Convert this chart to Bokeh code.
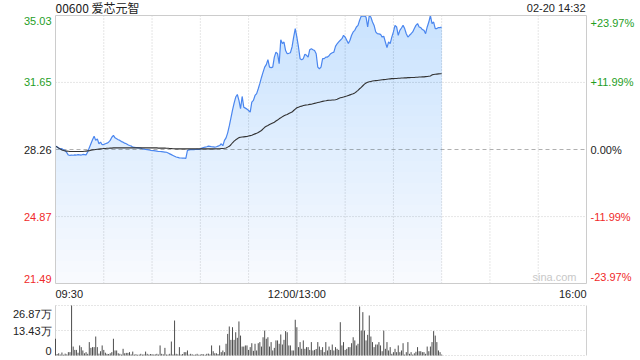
import numpy as np
from bokeh.plotting import figure
from bokeh.models import Range1d
from bokeh.core.properties import value
from bokeh.embed import file_html
from bokeh.resources import INLINE

# ---------------- data ----------------
stock_title = "00600 爱芯元智"
stamp = "02-20 14:32"
prev_close = 28.26

# one value per trading minute from 09:30 (index 0); 12:00 and 13:00 share index 150
price = [
    28.43, 28.40, 28.33, 28.29, 28.30, 28.24, 28.21, 28.10, 27.98, 27.96,
    27.98, 27.97, 27.99, 27.98, 28.00, 27.99, 27.98, 28.01, 28.00, 27.99,
    28.13, 28.35, 28.55, 28.75, 28.93, 28.72, 28.80, 28.55, 28.63, 28.50,
    28.52, 28.55, 28.58, 28.63, 28.72, 28.88, 28.97, 28.85, 28.80, 28.75,
    28.72, 28.66, 28.63, 28.58, 28.55, 28.50, 28.46, 28.44, 28.38, 28.37,
    28.36, 28.35, 28.34, 28.33, 28.30, 28.28, 28.26, 28.25, 28.24, 28.22,
    28.21, 28.20, 28.19, 28.18, 28.16, 28.16, 28.15, 28.14, 28.13, 28.12,
    28.08, 28.04, 28.00, 27.96, 27.92, 27.88, 27.86, 27.84, 27.83, 27.82,
    27.82, 27.81, 28.21, 28.24, 28.25, 28.26, 28.25, 28.26, 28.27, 28.26,
    28.28, 28.33, 28.36, 28.38, 28.40, 28.43, 28.42, 28.40, 28.39, 28.38,
    28.40, 28.43, 28.46, 28.55, 28.45, 28.72, 28.85, 29.10, 29.45, 29.85,
    30.25, 30.60, 30.91, 31.04, 30.74, 30.32, 30.94, 30.40, 30.35, 30.30,
    30.23, 30.15, 30.65, 30.74, 30.99, 31.08, 31.33, 31.60, 31.90, 32.17,
    32.42, 32.55, 32.80, 32.42, 32.40, 32.42, 32.93, 33.18, 33.10, 32.60,
    33.80, 33.61, 33.69, 33.26, 33.10, 33.12, 33.15, 33.44, 33.94, 34.37,
    33.94, 33.44, 32.85, 32.80, 32.85, 33.07, 33.02, 32.93, 33.30, 33.35,
    33.30, 33.26, 33.10, 32.42, 32.34, 32.42, 32.85, 32.85, 32.93, 32.93,
    33.00, 33.10, 33.15, 33.18, 33.47, 33.60, 33.70, 33.78, 33.86, 34.03,
    33.94, 33.78, 33.61, 33.78, 34.03, 34.20, 34.28, 34.45, 34.53, 34.79,
    35.00, 35.00, 35.00, 34.95, 34.45, 35.03, 34.95, 34.70, 34.53, 34.20,
    34.11, 34.10, 34.08, 33.94, 33.98, 33.69, 33.41, 33.69, 33.61, 33.94,
    34.20, 34.53, 34.45, 34.03, 34.28, 34.40, 34.53, 34.37, 34.11, 33.94,
    34.03, 34.11, 34.20, 34.37, 34.53, 34.62, 34.45, 34.42, 34.32, 34.28,
    34.11, 34.45, 34.70, 35.03, 34.62, 34.70, 34.37, 34.37, 34.42, 34.42,
    34.45,
]

avg_price = [
    28.43, 28.38, 28.33, 28.28, 28.24, 28.21, 28.19, 28.18, 28.17, 28.16,
    28.16, 28.16, 28.16, 28.16, 28.16, 28.16, 28.16, 28.16, 28.17, 28.18,
    28.19, 28.20, 28.22, 28.24, 28.25, 28.26, 28.27, 28.28, 28.29, 28.30,
    28.31, 28.31, 28.32, 28.32, 28.33, 28.33, 28.34, 28.34, 28.34, 28.34,
    28.34, 28.34, 28.34, 28.34, 28.34, 28.34, 28.34, 28.34, 28.34, 28.34,
    28.34, 28.34, 28.34, 28.34, 28.34, 28.34, 28.34, 28.34, 28.34, 28.34,
    28.34, 28.34, 28.34, 28.34, 28.33, 28.33, 28.33, 28.33, 28.33, 28.32,
    28.32, 28.31, 28.31, 28.30, 28.30, 28.29, 28.29, 28.29, 28.29, 28.29,
    28.29, 28.29, 28.29, 28.29, 28.29, 28.29, 28.29, 28.29, 28.29, 28.29,
    28.29, 28.29, 28.29, 28.29, 28.29, 28.29, 28.29, 28.29, 28.29, 28.29,
    28.30, 28.30, 28.30, 28.31, 28.31, 28.32, 28.34, 28.38, 28.42, 28.50,
    28.60, 28.68, 28.75, 28.80, 28.86, 28.88, 28.89, 28.90, 28.91, 28.92,
    28.94, 28.96, 28.98, 29.02, 29.05, 29.08, 29.12, 29.17, 29.22, 29.30,
    29.38, 29.43, 29.47, 29.52, 29.56, 29.60, 29.64, 29.70, 29.75, 29.81,
    29.86, 29.92, 29.96, 30.00, 30.03, 30.08, 30.12, 30.15, 30.23, 30.30,
    30.37, 30.40, 30.43, 30.45, 30.48, 30.50, 30.51, 30.52, 30.54, 30.55,
    30.57, 30.59, 30.61, 30.63, 30.65, 30.67, 30.69, 30.71, 30.72, 30.74,
    30.75, 30.75, 30.76, 30.76, 30.77, 30.80, 30.84, 30.87, 30.89, 30.91,
    30.94, 30.96, 30.99, 31.02, 31.05, 31.08, 31.12, 31.18, 31.25, 31.33,
    31.40, 31.48, 31.56, 31.62, 31.66, 31.68, 31.70, 31.72, 31.73, 31.74,
    31.75, 31.76, 31.77, 31.78, 31.79, 31.80, 31.81, 31.82, 31.83, 31.84,
    31.84, 31.85, 31.85, 31.86, 31.86, 31.87, 31.87, 31.88, 31.88, 31.89,
    31.89, 31.90, 31.90, 31.90, 31.91, 31.91, 31.92, 31.92, 31.93, 31.93,
    31.94, 31.95, 31.96, 31.97, 32.03, 32.05, 32.06, 32.07, 32.08, 32.09,
    32.09,
]

# volume in 万 shares
volume_wan = [
    9.0, 0.8, 1.2, 0.5, 1.6, 0.4, 1.0, 0.6, 1.8, 1.8,
    26.87, 4.8, 3.0, 3.0, 1.5, 5.4, 4.5, 2.7, 1.2, 1.8,
    0.9, 7.2, 4.1, 4.5, 4.5, 10.2, 4.5, 1.0, 2.3, 5.4,
    3.0, 1.5, 0.9, 0.8, 1.2, 1.8, 9.0, 2.7, 2.7, 1.2,
    0.9, 0.5, 3.6, 1.2, 1.4, 1.4, 1.8, 0.6, 2.1, 0.5,
    0.7, 0.4, 0.5, 0.9, 0.5, 0.6, 2.1, 0.9, 0.5, 0.8,
    0.7, 0.5, 0.6, 0.9, 0.5, 5.4, 0.9, 0.6, 4.1, 0.5,
    0.5, 0.9, 7.5, 0.6, 18.8, 0.9, 0.6, 4.5, 0.5, 0.8,
    1.8, 1.8, 2.7, 0.5, 0.9, 0.6, 0.4, 0.5, 0.9, 0.4,
    0.5, 0.8, 0.6, 0.4, 0.9, 1.0, 0.6, 5.4, 2.3, 1.2,
    1.2, 0.8, 5.4, 1.8, 2.7, 1.8, 6.3, 11.6, 15.6, 8.4,
    15.2, 8.4, 12.5, 9.5, 18.3, 10.7, 4.8, 4.8, 5.4, 5.4,
    3.0, 4.5, 6.6, 2.5, 6.3, 2.7, 6.6, 7.2, 4.8, 9.8,
    13.4, 9.0, 9.8, 4.8, 7.2, 2.7, 4.1, 8.1, 8.1, 6.3,
    11.3, 5.9, 8.4, 13.1, 12.5, 5.4, 5.4, 2.7, 2.7, 19.2,
    15.2, 4.5, 7.2, 3.6, 8.1, 3.6, 4.5, 4.5, 3.0, 7.2,
    2.7, 3.0, 3.5, 7.2, 4.8, 3.0, 4.5, 1.8, 7.2, 2.7,
    4.8, 3.0, 5.9, 2.7, 4.5, 3.6, 3.0, 17.9, 5.4, 7.2,
    3.0, 3.6, 4.5, 4.5, 6.6, 9.8, 8.1, 5.4, 6.3, 26.3,
    13.4, 23.3, 13.4, 8.1, 11.1, 21.5, 10.2, 7.2, 4.5, 5.9,
    5.9, 7.2, 5.4, 2.3, 13.4, 3.6, 7.2, 2.7, 4.5, 0.9,
    1.8, 3.6, 1.8, 5.4, 1.8, 2.7, 6.6, 0.5, 1.8, 7.2,
    0.9, 1.8, 0.5, 1.2, 2.0, 4.5, 2.3, 2.3, 1.8, 1.8,
    0.9, 4.8, 2.3, 4.8, 7.2, 13.1, 10.7, 7.2, 2.7, 1.8,
    0.5,
]

price_ticks = [21.49, 24.87, 28.26, 31.65, 35.03]
price_labels = ["21.49", "24.87", "28.26", "31.65", "35.03"]
pct_labels = ["-23.97%", "-11.99%", "0.00%", "+11.99%", "+23.97%"]
vol_ticks = [0, 13.43, 26.87]
vol_labels = ["0", "13.43万", "26.87万"]
time_labels = ["09:30", "12:00/13:00", "16:00"]
time_pos = [0, 150, 330]          # minutes from 09:30 on the session axis
session_minutes = 330
grid_step = 30

# ---------------- layout (pixels) & style ----------------
W, H = 640, 360
PL, PR = 55, 586          # panel left / right
T1, B1 = 15, 283          # price panel top / bottom
T2, B2 = 305, 355         # volume panel top / bottom

BLUE = "#4a86ef"
GREEN = "#1f9e1f"
RED = "#f02a2a"
DARK = "#222222"
GRIDC = "#cccccc"
FONT = "Liberation Sans"
CJK = "Noto Sans CJK SC"

n = min(len(price), len(avg_price), len(volume_wan))
x = np.arange(n)
pr = np.array(price[:n])
av = np.array(avg_price[:n])
vol = np.array(volume_wan[:n])

ymin, ymax = price_ticks[0], price_ticks[-1]
vmax = vol_ticks[-1]

# ranges so that the panels land on the wanted pixel boxes of one full-canvas frame
xpp = session_minutes / (PR - PL)
x_start, x_end = -PL * xpp, session_minutes + (W - PR) * xpp
ypp = (ymax - ymin) / (B1 - T1)
y_start, y_end = ymin - (H - B1) * ypp, ymax + T1 * ypp
vpp = vmax / (B2 - T2)
v_start, v_end = -(H - B2) * vpp, vmax + T2 * vpp

def X(px):
    return x_start + px * xpp

def Y(py):
    return y_end - py * ypp

p = figure(width=W, height=H, title=None,
           x_range=Range1d(x_start, x_end), y_range=Range1d(y_start, y_end),
           toolbar_location=None, output_backend="svg",
           x_axis_location=None, y_axis_location=None,
           min_border=0, outline_line_color=None,
           background_fill_color="white", border_fill_color="white")
p.extra_y_ranges = {"vol": Range1d(v_start, v_end)}
p.grid.visible = False

# ---- price panel grid ----
vx = list(range(grid_step, session_minutes, grid_step))
p.segment(x0=vx, y0=ymin, x1=vx, y1=ymax, line_color=GRIDC, line_dash="1 2", line_width=1)
hy = [t for t in price_ticks[1:-1] if t != prev_close]
p.segment(x0=0, y0=hy, x1=session_minutes, y1=hy, line_color=GRIDC, line_dash="1 2", line_width=1)
p.segment(x0=[0], y0=[prev_close], x1=[session_minutes], y1=[prev_close],
          line_color="#b0b0b0", line_dash="4 3", line_width=1)

# gradient-like fill under the price line
n_layers = 24
levels = np.linspace(ymin, ymax, n_layers + 1)[:-1]
for i, lo in enumerate(levels):
    a = 0.04 if i == 0 else 0.0125
    p.varea(x=x, y1=np.minimum(pr, lo), y2=pr, fill_color=BLUE, fill_alpha=a)

p.line(x, pr, line_color=BLUE, line_width=1.2)
p.line(x, av, line_color="#333333", line_width=1.1)

p.quad(left=[0], right=[session_minutes], bottom=[ymin], top=[ymax],
       fill_color=None, line_color=GRIDC, line_width=1)

# ---- volume panel ----
p.segment(x0=0, y0=vol_ticks, x1=session_minutes, y1=vol_ticks, line_color=GRIDC,
          line_dash="1 2", line_width=1, y_range_name="vol")
p.segment(x0=[0, session_minutes], y0=0, x1=[0, session_minutes], y1=vmax,
          line_color="#d0d0d0", line_width=1, y_range_name="vol")
p.segment(x0=x, y0=0, x1=x, y1=vol, line_color="#4d4d4d", line_width=1, y_range_name="vol")

# ---- texts ----
def col_for(v):
    if abs(v - prev_close) < 1e-9:
        return DARK
    return GREEN if v > prev_close else RED

def put(xs, ys, texts, colors, align, baseline, font=FONT, size="11px", yr="default"):
    p.text(x=xs, y=ys, text=texts, text_color=colors, text_align=align,
           text_baseline=baseline, text_font=value(font), text_font_size=value(size),
           y_range_name=yr)

for t, lab, pl in zip(price_ticks, price_labels, pct_labels):
    base = "middle"
    yy = t
    if t == ymax:
        base, yy = "top", Y(T1 + 1)
    elif t == ymin:
        base, yy = "bottom", Y(B1 - 1)
    put([X(PL - 4)], [yy], [lab], [col_for(t)], "right", base)
    put([X(PR + 4)], [yy], [pl], [col_for(t)], "left", base)

put([X(PL)], [Y(7)], [stock_title], [DARK], "left", "middle", font=CJK, size="12px")
put([X(PR - 1)], [Y(7)], [stamp], [DARK], "right", "middle")

for tp, tl, al in zip(time_pos, time_labels, ["left", "center", "right"]):
    put([tp], [Y(293)], [tl], [DARK], al, "middle")

put([X(PR - 10)], [Y(B1 - 7)], ["sina.com"], ["#c8c8c8"], "right", "middle")

for t, lab in zip(vol_ticks, vol_labels):
    base, yy = "middle", t
    if t == vmax:
        base, yy = "top", vmax - 2 * vpp
    elif t == vol_ticks[0]:
        base, yy = "bottom", 1 * vpp
    put([X(PL - 4)], [yy], [lab], [DARK], "right", base, yr="vol")

open("out.html", "w").write(file_html(p, INLINE))
